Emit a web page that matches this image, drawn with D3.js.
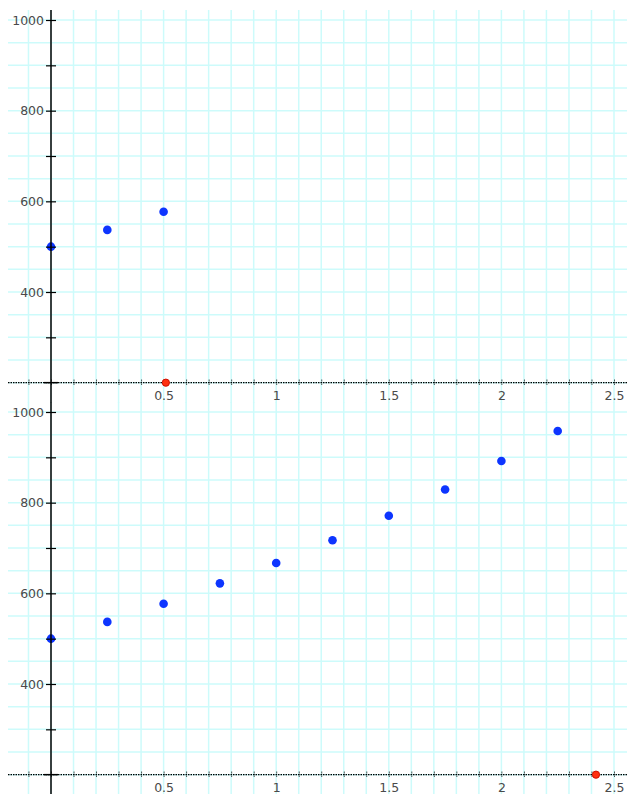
<!DOCTYPE html>
<html>
<head>
<meta charset="utf-8">
<script src="https://cdn.jsdelivr.net/npm/d3@7"></script>
<style>
  body { margin: 0; background: #fff; }
  svg { display: block; }
  .tick text { font-family: "DejaVu Sans", Verdana, sans-serif; font-size: 12.5px; fill: #4a4a4a; }
</style>
</head>
<body>
<svg id="chart" width="627" height="794"></svg>
<script>
// Data
var topX = [0, 0.25, 0.5];
var topY = [500, 537, 577];
var topRedX = [0.51];
var topRedY = [200];

var bottomX = [0, 0.25, 0.5, 0.75, 1, 1.25, 1.5, 1.75, 2, 2.25];
var bottomY = [500, 537, 577, 622, 667, 717, 771, 829, 892, 958];
var bottomRedX = [2.42];
var bottomRedY = [200];

var xLabels = [0.5, 1, 1.5, 2, 2.5];
var yLabels = [400, 600, 800, 1000];

var width = 627,
    height = 794;

var svg = d3.select("#chart");

// x scale shared by both panels
var xscale = d3.scaleLinear().domain([0, 2.5]).range([51, 614]);

function drawPanel(top, y1000, y400, xs, ys, rxs, rys) {
  var yscale = d3.scaleLinear().domain([400, 1000]).range([y400, y1000]);
  var g = svg.append("g");
  var ybottom = yscale(200);

  // grid
  var grid = g.append("g").classed("grid", true);
  var vlines = d3.range(-1, 27).map(function (i) { return i / 10; });
  grid.selectAll("line.v").data(vlines).enter().append("line")
    .attr("x1", function (d) { return xscale(d); })
    .attr("x2", function (d) { return xscale(d); })
    .attr("y1", top).attr("y2", ybottom + 20)
    .style("stroke", "#cdfbfb").style("stroke-width", 1.5);
  var hlines = d3.range(200, 1001, 50);
  grid.selectAll("line.h").data(hlines).enter().append("line")
    .attr("x1", 8).attr("x2", width)
    .attr("y1", function (d) { return yscale(d); })
    .attr("y2", function (d) { return yscale(d); })
    .style("stroke", "#cdfbfb").style("stroke-width", 1.5);

  // blue points (under the axes)
  g.selectAll("circle.blue").data(xs).enter().append("circle")
    .attr("cx", function (d) { return xscale(d); })
    .attr("cy", function (d, i) { return yscale(ys[i]); })
    .attr("r", 4.3)
    .style("fill", "#0d35ff");

  // y axis
  var yax = g.append("g")
    .attr("transform", "translate(" + xscale(0) + ",0)")
    .call(d3.axisLeft(yscale)
      .tickValues(d3.range(300, 1001, 100))
      .tickSize(5).tickPadding(2)
      .tickFormat(function (d) { return yLabels.indexOf(d) >= 0 ? d : ""; }));
  yax.select(".domain").remove();
  yax.selectAll(".tick line").attr("x1", 5).style("stroke", "#000").style("stroke-width", 1.2);
  g.append("line")
    .attr("x1", xscale(0)).attr("x2", xscale(0))
    .attr("y1", top).attr("y2", ybottom + 20)
    .style("stroke", "#000").style("stroke-width", 1.5);

  // x axis (dotted)
  var xax = g.append("g")
    .attr("transform", "translate(0," + ybottom + ")")
    .call(d3.axisBottom(xscale)
      .tickValues(d3.range(-1, 26).map(function (i) { return i / 10; }))
      .tickSize(3).tickPadding(5)
      .tickFormat(function (d) { return xLabels.indexOf(+d.toFixed(1)) >= 0 ? d3.format("")(+d.toFixed(1)) : ""; }));
  xax.select(".domain").remove();
  xax.selectAll(".tick line").attr("y1", -3)
    .style("stroke", "#000").style("stroke-dasharray", "1,1");
  xax.append("line")
    .attr("x1", 8).attr("x2", width).attr("y1", 0).attr("y2", 0)
    .style("stroke", "#000").style("stroke-width", 1.3).style("stroke-dasharray", "1.5,1");
  xax.append("line")
    .attr("x1", xscale(0) - 7).attr("x2", xscale(0) + 7).attr("y1", 0).attr("y2", 0)
    .style("stroke", "#000").style("stroke-width", 1.5);

  // red points (on the x axis)
  g.selectAll("circle.red").data(rxs).enter().append("circle")
    .attr("cx", function (d) { return xscale(d); })
    .attr("cy", function (d, i) { return yscale(rys[i]); })
    .attr("r", 3.6)
    .style("fill", "#ff3010").style("stroke", "#d01000").style("stroke-width", 1);
}

drawPanel(10, 20, 292, topX, topY, topRedX, topRedY);
drawPanel(402, 412, 684, bottomX, bottomY, bottomRedX, bottomRedY);
</script>
</body>
</html>
